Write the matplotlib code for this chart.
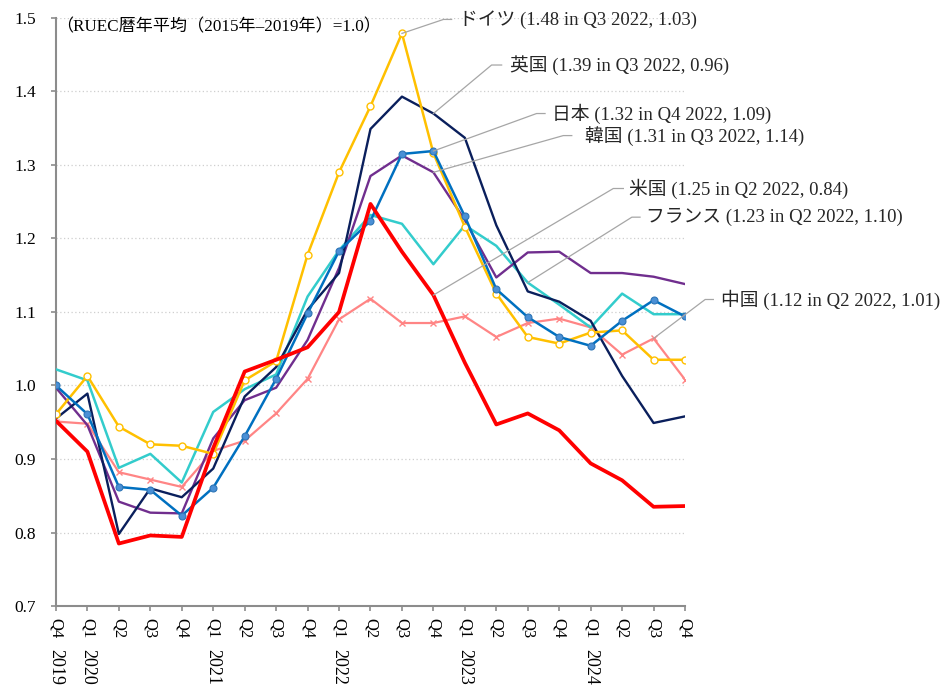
import matplotlib
matplotlib.use("Agg")
import matplotlib.pyplot as plt
import matplotlib.transforms as mtransforms
import numpy as np

FONT = ['Liberation Serif', 'Noto Sans CJK JP']
plt.rcParams['font.family'] = FONT

quarters = ["Q4", "Q1", "Q2", "Q3", "Q4",
            "Q1", "Q2", "Q3", "Q4",
            "Q1", "Q2", "Q3", "Q4",
            "Q1", "Q2", "Q3", "Q4",
            "Q1", "Q2", "Q3", "Q4"]
years = {0: "2019", 1: "2020", 5: "2021", 9: "2022", 13: "2023", 17: "2024"}

germany = [0.961, 1.013, 0.944, 0.920, 0.918, 0.907, 1.007, 1.033, 1.178, 1.290, 1.380,
           1.479, 1.316, 1.216, 1.125, 1.066, 1.057, 1.072, 1.075, 1.035, 1.035]
uk = [0.955, 0.989, 0.798, 0.860, 0.848, 0.887, 0.985, 1.025, 1.103, 1.153, 1.349,
      1.393, 1.370, 1.337, 1.218, 1.128, 1.114, 1.088, 1.013, 0.949, 0.958]
japan = [1.000, 0.961, 0.862, 0.858, 0.823, 0.861, 0.931, 1.009, 1.098, 1.183, 1.224,
         1.315, 1.319, 1.230, 1.131, 1.093, 1.066, 1.054, 1.088, 1.116, 1.094]
korea = [0.997, 0.946, 0.842, 0.827, 0.826, 0.928, 0.980, 0.997, 1.062, 1.160, 1.285,
         1.313, 1.290, 1.225, 1.147, 1.181, 1.182, 1.153, 1.153, 1.148, 1.138]
us = [0.952, 0.910, 0.785, 0.796, 0.794, 0.915, 1.019, 1.035, 1.052, 1.100, 1.247,
      1.182, 1.123, 1.031, 0.947, 0.962, 0.939, 0.894, 0.871, 0.835, 0.836]
france = [1.022, 1.007, 0.888, 0.907, 0.868, 0.964, 0.995, 1.015, 1.121, 1.184, 1.232,
          1.220, 1.165, 1.218, 1.190, 1.140, 1.110, 1.079, 1.125, 1.097, 1.097]
china = [0.951, 0.948, 0.882, 0.872, 0.862, 0.911, 0.925, 0.962, 1.009, 1.090, 1.118,
         1.085, 1.085, 1.094, 1.066, 1.085, 1.091, 1.079, 1.042, 1.064, 1.008]

labels = ["ドイツ (1.48 in Q3 2022, 1.03)", "英国 (1.39 in Q3 2022, 0.96)",
          "日本 (1.32 in Q4 2022, 1.09)", "韓国 (1.31 in Q3 2022, 1.14)",
          "米国 (1.25 in Q2 2022, 0.84)", "フランス (1.23 in Q2 2022, 1.10)",
          "中国 (1.12 in Q2 2022, 1.01)"]

x = np.arange(len(quarters))

fig = plt.figure(figsize=(9.42, 6.86), dpi=100)
ax = fig.add_axes([0.0594, 0.1166, 0.6678, 0.8572])

# series drawing
ax.plot(x, china, color='#FF8585', lw=1.6, marker='x', ms=5, mew=1.0, zorder=3)
ax.plot(x, france, color='#33CCCC', lw=1.8, zorder=3)
ax.plot(x, korea, color='#702E8E', lw=1.7, zorder=3)
ax.plot(x, uk, color='#0A1F5C', lw=1.7, zorder=4)
ax.plot(x, germany, color='#FFC000', lw=1.8, marker='o', ms=5, mfc='white',
        mec='#FFC000', mew=1.0, zorder=4)
ax.plot(x, japan, color='#0070C0', lw=1.8, marker='o', ms=5, mfc='#4A90D6',
        mec='#2E75B6', mew=0.8, zorder=4)
ax.plot(x, us, color='#FF0000', lw=2.7, zorder=5)

ax.set_xlim(0, 20)
ax.set_ylim(0.7, 1.5)
ax.set_yticks(np.arange(0.7, 1.51, 0.1))
ax.set_yticklabels([f"{v:.1f}" for v in np.arange(0.7, 1.51, 0.1)], fontsize=12.5)
ax.set_xticks(x)
ax.set_xticklabels(quarters, rotation=-90, fontsize=12, va='top', ha='center')

# year row under the quarter labels
trans = mtransforms.blended_transform_factory(ax.transData, ax.transAxes)
for i, yr in years.items():
    ax.text(i, -0.0735, yr, rotation=-90, fontsize=13, va='top', ha='center',
            transform=trans, clip_on=False)

for v in np.arange(0.8, 1.51, 0.1):
    ax.axhline(v, color='#CFCFCF', lw=0.9, ls=(0, (1, 2)), zorder=1)

for s in ['top', 'right']:
    ax.spines[s].set_visible(False)
for s in ['left', 'bottom']:
    ax.spines[s].set_color('#8C8C8C')
    ax.spines[s].set_linewidth(1.5)
ax.tick_params(axis='both', colors='#8C8C8C', length=3.5, width=1.2, labelcolor='black')
ax.tick_params(axis='y', pad=11)
ax.tick_params(axis='x', pad=5)

ax.text(0.0, 1.487, "（RUEC暦年平均（2015年–2019年）=1.0）", fontsize=12.3,
        va='center', ha='left', family=FONT)

# leader lines: (start index, series, elbow x, elbow y, end x, text x)
leaders = [
    (11, germany, 12.32, 1.498, 12.58, 12.80),
    (12, uk, 13.85, 1.436, 14.17, 14.45),
    (12, japan, 15.28, 1.370, 15.55, 15.78),
    (12, korea, 16.13, 1.340, 16.40, 16.82),
    (12, us, 17.72, 1.268, 18.04, 18.22),
    (15, france, 18.31, 1.229, 18.57, 18.76),
    (19, china, 20.64, 1.117, 20.90, 21.13),
]
for (i, s, ex, ey, hx, tx), lab in zip(leaders, labels):
    ax.plot([i, ex, hx], [s[i], ey, ey], color='#A6A6A6', lw=0.9,
            clip_on=False, zorder=6)
    ax.text(tx, ey, lab, fontsize=13.5, va='center', ha='left', family=FONT,
            color='#262626', clip_on=False)

fig.savefig("out.png", dpi=100)
